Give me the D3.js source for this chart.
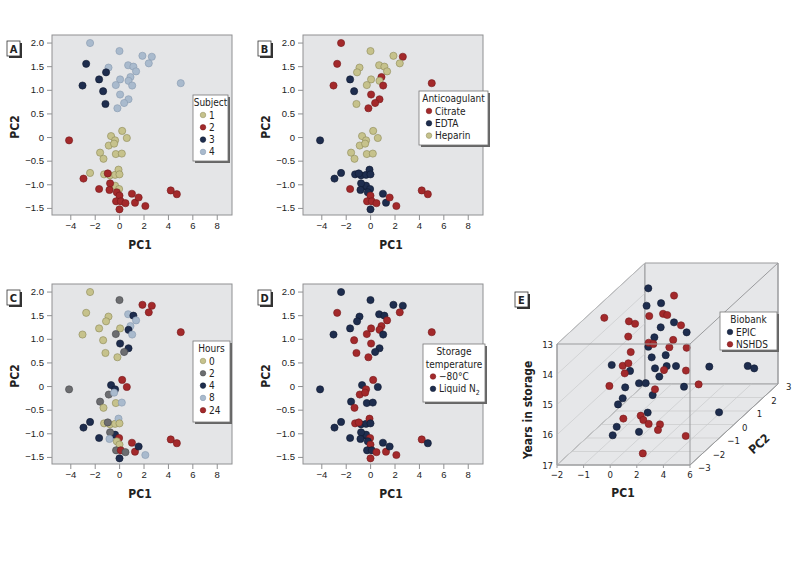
<!DOCTYPE html>
<html><head><meta charset="utf-8">
<script src="https://cdn.jsdelivr.net/npm/d3@7"></script>
<style>
body{margin:0;background:#fff;}
svg{font-family:"DejaVu Sans Condensed","Liberation Sans Narrow","Arial Narrow",sans-serif;font-stretch:condensed;}
</style></head><body>
<svg id="chart" width="800" height="562"></svg>
<script>
// ---------- Data (panels A–D share the same PCA scores) ----------
const pc1 = [-2.38,0.03,1.91,2.68,2.43,0.74,1.17,1.39,-0.87,0.93,0.08,0.77,1.07,-0.27,0.08,0.77,0.41,-0.14,5.05,-2.70,-1.07,-1.64,-3.0,-1.31,-1.12,
  0.25,-0.66,-0.33,0.63,-0.85,-0.41,-1.56,-1.28,-0.27,0.22,-2.38,-1.23,-0.74,-0.33,-0.05,0.03,-0.57,-0.33,0.0,-4.1,-2.92,-1.64,-0.93,-0.74,-0.79,-0.19,0.03,-0.25,0.14,0.52,0.03,1.05,1.3,1.6,2.15,4.23,4.73];
const pc2 = [1.99,1.82,1.72,1.70,1.56,1.52,1.49,1.39,1.47,1.27,1.22,1.19,1.09,1.10,0.90,0.80,0.72,0.61,1.14,1.55,1.37,1.22,1.09,0.97,0.70,
  0.13,0.02,-0.07,-0.02,-0.18,-0.14,-0.33,-0.46,-0.36,-0.35,-0.76,-0.79,-0.81,-0.80,-0.69,-0.79,-1.05,-1.03,-1.10,-0.07,-0.88,-1.10,-0.77,-0.98,-1.12,-1.17,-1.24,-1.36,-1.36,-1.40,-1.53,-1.20,-1.39,-1.28,-1.46,-1.13,-1.21];
const subject = [4,4,4,4,4,4,4,4,4,4,4,4,4,4,4,4,4,4,4,3,3,3,3,3,3,
  1,1,1,1,1,1,1,1,1,1,1,1,1,1,1,1,1,1,1,2,2,2,2,2,2,2,2,2,2,2,2,2,2,2,2,2,2];
const anticoagulant = ["Citrate","Heparin","Heparin","Citrate","Heparin","Heparin","Heparin","Heparin","Heparin","Citrate","Heparin","Heparin","Citrate","Heparin","Citrate","Citrate","Citrate","Citrate","Citrate","Citrate","Heparin","EDTA","Citrate","EDTA","Heparin",
  "Heparin","Heparin","Heparin","Heparin","Heparin","Heparin","Heparin","Heparin","Heparin","Heparin","EDTA","EDTA","EDTA","EDTA","EDTA","EDTA","EDTA","EDTA","EDTA","EDTA","EDTA","Citrate","EDTA","EDTA","EDTA","EDTA","Citrate","Citrate","Citrate","Citrate","EDTA","EDTA","EDTA","Citrate","Citrate","Citrate","Citrate"];
const hours = [0,2,24,24,24,8,4,8,0,8,0,4,8,2,4,4,2,0,24,0,0,0,0,0,0,
  24,4,4,24,2,8,2,0,0,8,4,0,0,0,8,0,8,4,24,2,4,4,2,2,8,0,0,2,24,2,4,24,24,4,8,24,24];
const storage = ["N2","N2","N2","N2","m80","N2","N2","m80","N2","m80","m80","m80","N2","m80","m80","N2","N2","m80","m80","m80","N2","N2","N2","m80","m80",
  "m80","N2","m80","N2","m80","m80","N2","m80","N2","N2","N2","m80","N2","N2","m80","N2","N2","N2","m80","N2","N2","N2","m80","N2","N2","N2","m80","N2","N2","m80","m80","N2","m80","N2","m80","m80","N2"];

const xTicks = [-4,-2,0,2,4,6,8];
const xTickLabels = ["\u22124","\u22122","0","2","4","6","8"];
const yTicks = [-1.5,-1.0,-0.5,0,0.5,1.0,1.5,2.0];
const yTickLabels = ["\u22121.5","\u22121.0","\u22120.5","0","0.5","1.0","1.5","2.0"];

const subjectLevels = [1,2,3,4];
const anticoagLevels = ["Citrate","EDTA","Heparin"];
const hourLevels = [0,2,4,8,24];
const storageLevels = ["m80","N2"];

// Panel E (3-D)
const eBiobank = ["EPIC","EPIC","EPIC","EPIC","EPIC","EPIC","EPIC","EPIC","EPIC","EPIC","EPIC","EPIC","EPIC","EPIC","EPIC","EPIC","EPIC","EPIC","EPIC","EPIC","EPIC","EPIC","EPIC","EPIC","EPIC","EPIC","EPIC","EPIC","EPIC","EPIC","EPIC",
  "NSHDS","NSHDS","NSHDS","NSHDS","NSHDS","NSHDS","NSHDS","NSHDS","NSHDS","NSHDS","NSHDS","NSHDS","NSHDS","NSHDS","NSHDS","NSHDS","NSHDS","NSHDS","NSHDS","NSHDS","NSHDS","NSHDS","NSHDS","NSHDS","NSHDS","NSHDS","NSHDS","NSHDS","NSHDS","NSHDS","NSHDS"];
const ePC1 = [-0.92,-0.14,0.29,1.51,1.15,2.27,0.77,0.85,1.05,1.45,1.95,2.07,1.69,2.39,2.75,4.62,5.01,0.41,1.07,1.17,1.13,1.22,1.67,1.99,1.07,1.23,4.66,1.69,1.15,2.05,0.91,
  0.63,-1.36,-0.32,0.05,0.02,0.41,0.66,1.49,0.08,0.43,0.71,1.46,1.67,2.27,0.67,0.63,0.53,0.75,1.79,2.67,0.71,2.99,2.13,1.71,1.87,2.19,2.43,2.75,1.55,4.42,2.72];
const ePC2 = [2,1,1.5,1,0.5,1,0.5,0,0,0.5,0,0.5,-0.5,-1,2,2.5,2.5,-2,-1.5,-1,-0.5,-2,1.5,-1,-2,-2.5,0.5,-1,-2.5,-2,-2.5,
  2,-0.5,0,0,1,1.5,1.5,1.5,-0.5,0.5,0.5,1,0.5,1,-1,-1.5,-1,-1.5,0,0.5,-2.5,1,-1,-1.5,-1.5,-1.5,-1,-1.5,-2.5,-1.5,-2.5];
const eYears = [13.39,13.52,13.66,14.07,14.01,14.40,14.34,14.43,14.78,14.93,15.07,15.29,14.92,14.97,15.98,16.18,16.26,14.14,14.56,15.19,15.41,14.88,16.42,15.58,15.24,15.22,16.82,16.16,15.96,16.35,16.24,
  13.63,13.25,13.59,13.67,13.86,14.01,14.05,14.39,13.87,14.52,14.56,14.65,14.67,14.91,14.16,14.39,14.53,14.64,15.20,15.44,14.61,16.12,15.39,16.04,16.18,16.31,16.55,16.51,15.69,16.71,16.84];
const ePC1TickLabels = ["\u22122","\u22121","0","2","4","6"];
const eYearTicks = [13,14,15,16,17];
const ePC2Ticks = [-3,-2,-1,0,1,2,3];
const eBiobankLevels = ["EPIC","NSHDS"];

// ---------- Styles ----------
const C = {
  tan:{f:"#c6c28c",s:"#8c8858"}, red:{f:"#a3292b",s:"#76191b"}, navy:{f:"#1e2d4e",s:"#0f1a31"},
  lblue:{f:"#a9bacd",s:"#8698ae"}, gray:{f:"#6c6d70",s:"#47484b"}
};
const plotBg = "#e4e5e7", frame = "#8f9092", textCol = "#222";

const svg = d3.select("#chart");
const pts = d3.range(pc1.length).map(i => ({pc1:pc1[i],pc2:pc2[i],subject:subject[i],anticoagulant:anticoagulant[i],hours:hours[i],storage:storage[i]}));

function labelBox(x, y, txt){
  const g = svg.append("g");
  g.append("rect").attr("x",x+2).attr("y",y+2).attr("width",13).attr("height",15).attr("fill","#333");
  g.append("rect").attr("x",x).attr("y",y).attr("width",13).attr("height",15).attr("fill","#fff").attr("stroke","#333").attr("stroke-width",0.8);
  g.append("text").attr("x",x+6.5).attr("y",y+11.5).attr("text-anchor","middle").attr("font-size",11).attr("font-weight","bold").attr("fill",textCol).text(txt);
}

function legend(x, y, w, h, titleLines, items){
  const g = svg.append("g");
  g.append("rect").attr("x",x+2).attr("y",y+2).attr("width",w).attr("height",h).attr("fill","#666");
  g.append("rect").attr("x",x).attr("y",y).attr("width",w).attr("height",h).attr("fill","#fff").attr("stroke","#777").attr("stroke-width",0.8);
  titleLines.forEach((t,i)=>{
    g.append("text").attr("x", x + w/2).attr("y", y + 11 + i*12.5).attr("text-anchor","middle").attr("font-size",10).attr("fill",textCol).text(t);
  });
  const top = y + 11 + titleLines.length*12.5;
  items.forEach((it,i)=>{
    const yy = top + i*12.3;
    g.append("circle").attr("cx",x+10).attr("cy",yy-3.5).attr("r",2.8).attr("fill",it.c.f).attr("stroke",it.c.s).attr("stroke-width",0.5);
    const t = g.append("text").attr("x",x+16).attr("y",yy).attr("font-size",10).attr("fill",textCol);
    if (it.sub){ t.text(it.label); t.append("tspan").attr("font-size",7).attr("dy",2.5).text(it.sub); }
    else t.text(it.label);
  });
}

function panel(left, top, letter, key, colorOf, legendSpec){
  const W = 180, H = 180;
  const x = d3.scaleLinear().domain([-5.5, 9.25]).range([left, left+W]);
  const y = d3.scaleLinear().domain([-1.65, 2.16]).range([top+H, top]);
  const g = svg.append("g");
  g.append("rect").attr("x",left).attr("y",top).attr("width",W).attr("height",H).attr("fill",plotBg).attr("stroke",frame).attr("stroke-width",1);
  const ax = g.append("g").attr("transform",`translate(0,${top+H})`)
    .call(d3.axisBottom(x).tickValues(xTicks).tickSize(5).tickPadding(2).tickFormat((d,i)=>xTickLabels[i]));
  const ay = g.append("g").attr("transform",`translate(${left},0)`)
    .call(d3.axisLeft(y).tickValues(yTicks).tickSize(5).tickPadding(3).tickFormat((d,i)=>yTickLabels[i]));
  [ax,ay].forEach(a=>{
    a.select(".domain").remove();
    a.selectAll("line").attr("stroke",frame);
    a.selectAll("text").attr("font-size",9.5).attr("fill",textCol).attr("font-family",null);
  });
  g.append("text").attr("x",left+W/2-2).attr("y",top+H+34).attr("text-anchor","middle").attr("font-size",12).attr("font-weight","bold").attr("fill",textCol).text("PC1");
  g.append("text").attr("transform",`translate(${left-33},${top+H/2+2}) rotate(-90)`).attr("text-anchor","middle").attr("font-size",12).attr("font-weight","bold").attr("fill",textCol).text("PC2");
  g.append("g").selectAll("circle").data(pts).join("circle")
    .attr("cx",d=>x(d.pc1)).attr("cy",d=>y(d.pc2)).attr("r",3.6)
    .attr("fill",d=>colorOf(d[key]).f).attr("stroke",d=>colorOf(d[key]).s).attr("stroke-width",0.6);
  labelBox(left-45, top+6, letter);
  legendSpec();
}

const subjColor = d3.scaleOrdinal().domain(subjectLevels).range([C.tan,C.red,C.navy,C.lblue]);
const antiColor = d3.scaleOrdinal().domain(anticoagLevels).range([C.red,C.navy,C.tan]);
const hourColor = d3.scaleOrdinal().domain(hourLevels).range([C.tan,C.gray,C.navy,C.lblue,C.red]);
const storColor = d3.scaleOrdinal().domain(storageLevels).range([C.red,C.navy]);

panel(52, 35, "A", "subject", subjColor, ()=>legend(193, 95, 35, 66, ["Subject"], subjectLevels.map(s=>({label:String(s), c:subjColor(s)}))));
panel(303, 35, "B", "anticoagulant", antiColor, ()=>legend(419, 91, 69, 54, ["Anticoagulant"], anticoagLevels.map(s=>({label:s, c:antiColor(s)}))));
panel(52, 284, "C", "hours", hourColor, ()=>legend(193, 341, 37, 81, ["Hours"], hourLevels.map(s=>({label:String(s), c:hourColor(s)}))));
panel(303, 284, "D", "storage", storColor, ()=>legend(423, 344, 62, 58, ["Storage","temperature"], [
  {label:"\u221280\u00B0C", c:storColor("m80")}, {label:"Liquid N", sub:"2", c:storColor("N2")}]));

// ---------- Panel E (3-D box) ----------
const ex = d3.scaleLinear().domain([-2,6]).range([557,690]);
const exTick = d3.scalePoint().domain(ePC1TickLabels).range([557,690]);
const ey = d3.scaleLinear().domain([13,17]).range([344,465]);
const ed = d3.scaleLinear().domain([-3,3]).range([0,1]);
const DX = 88, DY = -81;
const proj = (a,b,c) => [ex(a) + DX*ed(b), ey(c) + DY*ed(b)];
const gE = svg.append("g");
const x0 = ex(-2), x1 = ex(6), yT = ey(13), yB = ey(17);
const wallFill = "#e6e7e9", edge = "#9a9b9d", grid = "#c9cacc";
gE.append("path").attr("d",`M${x0},${yT}L${x0+DX},${yT+DY}L${x0+DX},${yB+DY}L${x0},${yB}Z`).attr("fill",wallFill).attr("stroke",edge);
gE.append("path").attr("d",`M${x0+DX},${yT+DY}L${x1+DX},${yT+DY}L${x1+DX},${yB+DY}L${x0+DX},${yB+DY}Z`).attr("fill",wallFill).attr("stroke",edge);
gE.append("path").attr("d",`M${x0},${yB}L${x1},${yB}L${x1+DX},${yB+DY}L${x0+DX},${yB+DY}Z`).attr("fill",wallFill).attr("stroke",edge);
ePC1TickLabels.forEach(t=>{ const xx = exTick(t);
  gE.append("line").attr("x1",xx).attr("y1",yB).attr("x2",xx+DX).attr("y2",yB+DY).attr("stroke",grid).attr("stroke-width",0.7); });
ePC2Ticks.forEach(t=>{ const f = ed(t);
  gE.append("line").attr("x1",x0+DX*f).attr("y1",yB+DY*f).attr("x2",x1+DX*f).attr("y2",yB+DY*f).attr("stroke",grid).attr("stroke-width",0.7); });
eYearTicks.forEach(t=>{ const yy = ey(t);
  gE.append("line").attr("x1",x0).attr("y1",yy).attr("x2",x0+DX).attr("y2",yy+DY).attr("stroke",grid).attr("stroke-width",0.7); });
const ePts = d3.range(ePC1.length).map(i=>({b:eBiobank[i], p:proj(ePC1[i],ePC2[i],eYears[i])}));
const bioColor = d3.scaleOrdinal().domain(eBiobankLevels).range([C.navy,C.red]);
gE.append("g").selectAll("circle").data(ePts).join("circle")
  .attr("cx",d=>d.p[0]).attr("cy",d=>d.p[1]).attr("r",3.6)
  .attr("fill",d=>bioColor(d.b).f).attr("stroke",d=>bioColor(d.b).s).attr("stroke-width",0.6);
const edges = [[x0,yT,x1,yT],[x1,yT,x1,yB],[x1,yT,x1+DX,yT+DY],[x1+DX,yT+DY,x1+DX,yB+DY],[x1+DX,yB+DY,x1,yB],[x0,yB,x1,yB],[x0,yT,x0,yB]];
edges.forEach(e=>gE.append("line").attr("x1",e[0]).attr("y1",e[1]).attr("x2",e[2]).attr("y2",e[3]).attr("stroke",edge).attr("stroke-width",1));
ePC1TickLabels.forEach(t=>{ const xx = exTick(t);
  gE.append("line").attr("x1",xx).attr("y1",yB).attr("x2",xx).attr("y2",yB+3).attr("stroke",edge);
  gE.append("text").attr("x",xx).attr("y",yB+13).attr("text-anchor","middle").attr("font-size",9.5).attr("fill",textCol).text(t); });
eYearTicks.forEach(t=>{ const yy = ey(t);
  gE.append("text").attr("x",x0-4).attr("y",yy+3.5).attr("text-anchor","end").attr("font-size",9.5).attr("fill",textCol).text(t); });
ePC2Ticks.forEach(t=>{ const f = ed(t);
  gE.append("text").attr("x",x1+DX*f+8).attr("y",yB+DY*f+6).attr("text-anchor","start").attr("font-size",9.5).attr("fill",textCol).text(t<0?"\u2212"+Math.abs(t):String(t)); });
gE.append("text").attr("x",623).attr("y",497).attr("text-anchor","middle").attr("font-size",12).attr("font-weight","bold").attr("fill",textCol).text("PC1");
gE.append("text").attr("transform","translate(532,410) rotate(-90)").attr("text-anchor","middle").attr("font-size",12).attr("font-weight","bold").attr("fill",textCol).text("Years in storage");
gE.append("text").attr("transform","translate(762,447) rotate(-42)").attr("text-anchor","middle").attr("font-size",12).attr("font-weight","bold").attr("fill",textCol).text("PC2");
labelBox(515, 292, "E");
legend(720, 312, 57, 38, ["Biobank"], eBiobankLevels.map(s=>({label:s, c:bioColor(s)})));
</script></body></html>
